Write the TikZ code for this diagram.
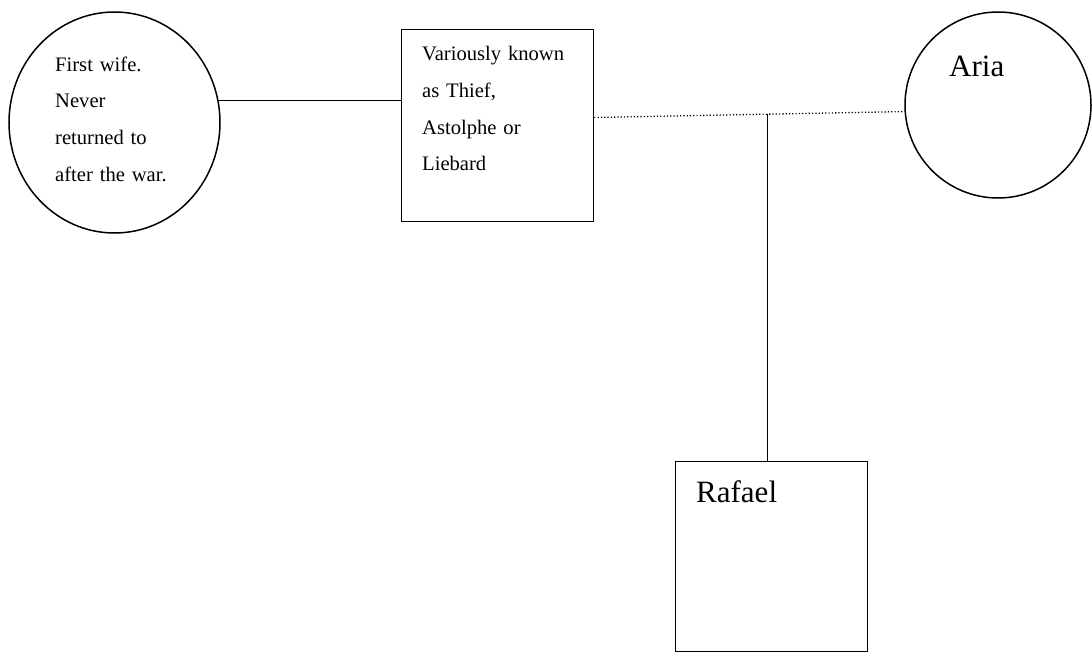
\documentclass[tikz,border=0pt]{standalone}
\usepackage{fontspec}
\setmainfont{Liberation Serif}
\usetikzlibrary{shapes.geometric,calc}
\begin{document}
\begin{tikzpicture}[x=1pt,y=-1pt,
  shapeline/.style={draw, line width=1.5pt, inner sep=0pt},
  personbox/.style={shapeline, rectangle, minimum width=192pt, minimum height=192pt},
  partnercircle/.style={shapeline, ellipse},
  notetext/.style={inner sep=0pt, anchor=base west, align=left,
    font=\fontsize{20.6}{36.7}\selectfont},
  nametext/.style={inner sep=0pt, anchor=base west, font=\fontsize{31}{36}\selectfont},
  solidlink/.style={line width=1.5pt},
  tieline/.style={line width=1.3pt, dash pattern=on 1.2pt off 2.1pt}]
\useasboundingbox (0,0) rectangle (1092,653);

% people
\node[partnercircle, minimum width=211pt, minimum height=221pt] (wife) at (114.5,122.5) {};
\node[personbox] (thief) at (497.5,125.3) {};
\node[partnercircle, minimum width=186pt, minimum height=186pt] (aria) at (998,105) {};
\node[personbox, minimum height=190pt] (rafael) at (771.5,556.7) {};

% texts
\node[notetext, text width=170pt] (wifetext) at (55,71)
  {First wife.\\Never\\returned to\\after the war.};
\node[notetext, text width=170pt] (thieftext) at (422,60.7)
  {Variously known\\as Thief,\\Astolphe or\\Liebard};
\node[nametext] (arianame) at (949,76.7) {Aria};
\node[nametext] (rafname) at (696,502.7) {Rafael};

% relations
\draw[solidlink] (wife.12) -- (wife.12 -| thief.west);
\coordinate (tieL) at ([yshift=7.8pt]thief.east);
\coordinate (tieR) at (aria.184);
\draw[tieline] (tieL) -- (tieR);
\coordinate (drop) at ($(tieL)!0.558!(tieR)$);
\draw[solidlink] (drop) -- (drop |- rafael.north);
\end{tikzpicture}
\end{document}
